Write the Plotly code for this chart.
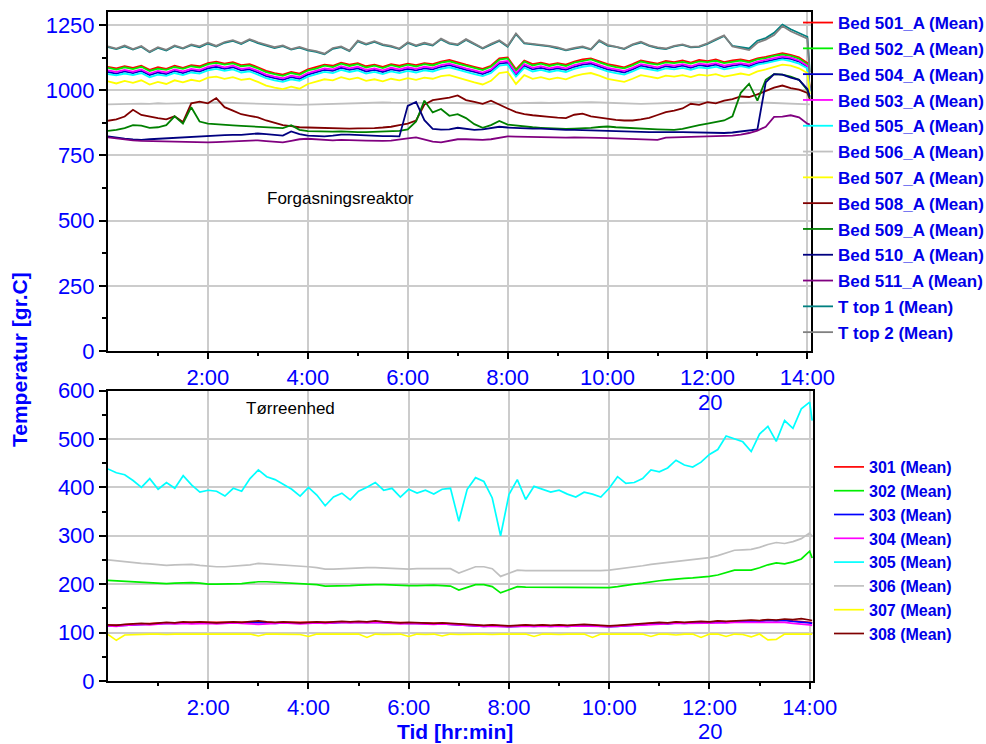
import plotly.graph_objects as go

# ---------------- data ----------------
minutes = list(range(0, 841, 10)) + [843]

tick_minutes = [120, 240, 360, 480, 600, 720, 840]
tick_labels = ["2:00", "4:00", "6:00", "8:00", "10:00", "12:00", "14:00"]
minor_minutes = [60, 180, 300, 420, 540, 660, 780]

top_names = ["Bed 501_A (Mean)", "Bed 502_A (Mean)", "Bed 504_A (Mean)", "Bed 503_A (Mean)",
             "Bed 505_A (Mean)", "Bed 506_A (Mean)", "Bed 507_A (Mean)", "Bed 508_A (Mean)",
             "Bed 509_A (Mean)", "Bed 510_A (Mean)", "Bed 511_A (Mean)", "T top 1 (Mean)",
             "T top 2 (Mean)"]
top_colors = ["#ff0000", "#00ee00", "#0000c8", "#ff00ff", "#00ffff", "#c0c0c0", "#ffff00",
              "#800000", "#008000", "#000080", "#800080", "#008080", "#808080"]

bed501 = [1090,1084,1092,1086,1094,1078,1088,1082,1094,1086,
          1096,1092,1104,1110,1102,1108,1096,1100,1088,1074,
          1066,1060,1070,1064,1080,1088,1098,1094,1106,1098,
          1104,1092,1098,1090,1100,1094,1102,1096,1104,1100,
          1110,1116,1106,1098,1090,1082,1094,1122,1126,1080,
          1114,1100,1106,1098,1104,1098,1110,1118,1122,1112,
          1100,1094,1088,1100,1114,1108,1102,1112,1108,1114,
          1106,1116,1112,1118,1108,1114,1118,1112,1122,1128,
          1136,1142,1136,1126,1104,1010]
bed502 = [1086,1079,1088,1081,1090,1074,1083,1078,1089,1082,
          1092,1087,1100,1105,1098,1103,1092,1095,1084,1069,
          1062,1055,1066,1059,1076,1083,1094,1089,1102,1093,
          1100,1087,1094,1085,1096,1089,1098,1091,1100,1095,
          1106,1111,1102,1093,1086,1077,1090,1117,1122,1075,
          1110,1095,1102,1093,1100,1093,1106,1113,1118,1107,
          1096,1089,1084,1095,1110,1103,1098,1107,1104,1109,
          1102,1111,1108,1113,1104,1109,1114,1107,1118,1123,
          1132,1137,1132,1121,1100,1005]
bed504 = [1070,1064,1072,1066,1074,1058,1068,1062,1074,1066,
          1076,1072,1084,1090,1082,1088,1076,1080,1068,1054,
          1046,1040,1050,1044,1060,1068,1078,1074,1086,1078,
          1084,1072,1078,1070,1080,1074,1082,1076,1084,1080,
          1090,1096,1086,1078,1070,1062,1074,1102,1106,1060,
          1094,1080,1086,1078,1084,1078,1090,1098,1102,1092,
          1080,1074,1068,1080,1094,1088,1082,1092,1088,1094,
          1086,1096,1092,1098,1088,1094,1098,1092,1104,1110,
          1118,1124,1120,1110,1090,998]
bed503 = [1076,1070,1078,1071,1080,1064,1074,1068,1080,1072,
          1082,1077,1090,1096,1088,1094,1082,1086,1074,1060,
          1052,1046,1056,1050,1066,1074,1084,1080,1092,1084,
          1090,1078,1084,1076,1086,1080,1088,1082,1090,1086,
          1096,1102,1092,1084,1076,1068,1080,1108,1112,1066,
          1100,1086,1092,1084,1090,1084,1096,1104,1108,1098,
          1086,1080,1074,1086,1100,1094,1088,1098,1094,1100,
          1092,1102,1098,1104,1094,1100,1104,1098,1110,1116,
          1124,1130,1125,1114,1094,1000]
bed505 = [1062,1057,1064,1058,1066,1050,1060,1055,1066,1058,
          1068,1064,1076,1082,1074,1080,1068,1072,1060,1046,
          1038,1032,1042,1036,1052,1060,1070,1066,1078,1070,
          1076,1064,1070,1062,1072,1066,1074,1068,1076,1072,
          1082,1088,1078,1070,1062,1054,1066,1094,1098,1052,
          1086,1072,1078,1070,1076,1070,1082,1090,1094,1084,
          1072,1066,1060,1072,1086,1080,1074,1084,1080,1086,
          1078,1088,1084,1090,1080,1086,1092,1086,1098,1104,
          1112,1118,1112,1102,1084,994]
bed506 = [946,947,948,947,949,948,950,949,950,951,
          952,951,952,953,952,951,952,950,949,948,
          947,946,945,944,945,946,948,949,950,951,
          952,951,952,953,952,952,953,952,951,952,
          953,952,951,950,949,948,948,949,950,951,
          952,953,952,951,952,953,954,955,954,953,
          952,950,949,948,948,949,950,951,952,953,
          954,954,953,952,953,952,951,952,953,952,
          951,950,949,948,947,946]
bed507 = [1034,1026,1036,1028,1038,1022,1032,1024,1038,1030,
          1040,1034,1048,1052,1044,1050,1040,1044,1032,1018,
          1010,1004,1014,1006,1024,1032,1042,1038,1050,1042,
          1048,1036,1042,1034,1044,1038,1046,1040,1048,1044,
          1054,1058,1048,1040,1030,1022,1036,1066,1070,1024,
          1058,1044,1050,1042,1048,1042,1054,1062,1066,1056,
          1044,1038,1032,1044,1058,1052,1046,1056,1052,1058,
          1050,1060,1056,1062,1052,1058,1064,1058,1072,1080,
          1090,1098,1094,1084,1066,985]
bed508 = [883,888,899,925,905,898,893,888,900,878,
          950,956,950,970,935,922,908,902,896,884,
          874,866,862,858,857,856,855,854,854,853,
          854,854,855,857,860,866,872,884,945,962,
          966,972,980,962,955,948,960,944,930,916,
          908,904,900,898,895,893,906,910,900,895,
          890,886,884,884,888,894,905,916,922,930,
          948,944,954,950,960,966,976,974,984,996,
          1010,1018,1008,1002,990,965]
bed509 = [844,848,855,866,864,856,858,866,900,872,
          935,880,872,869,867,865,863,861,860,858,
          856,855,866,848,843,842,842,841,842,840,
          839,839,840,841,842,844,850,880,960,915,
          928,902,908,893,870,856,866,882,868,864,
          861,858,856,854,853,852,853,854,856,859,
          861,858,856,855,854,852,850,849,848,852,
          860,866,872,878,884,900,990,1025,960,1040,
          1062,1060,1052,1040,1000,970]
bed510 = [823,818,814,811,810,812,814,816,818,820,
          822,824,826,827,828,829,829,832,834,832,
          828,826,842,832,826,824,823,826,830,830,
          828,826,825,824,824,823,940,955,885,852,
          849,850,856,853,848,850,856,860,857,855,
          854,853,853,851,849,848,848,847,846,845,
          843,841,840,839,839,839,839,840,839,839,
          838,838,837,837,836,838,842,846,850,1030,
          1062,1060,1048,1040,1005,975]
bed511 = [819,815,811,808,806,805,804,803,803,802,
          801,800,800,801,802,803,805,807,808,805,
          802,800,806,812,814,812,810,808,810,810,
          808,807,806,806,807,810,815,819,810,803,
          800,805,812,812,811,810,812,818,823,822,
          821,820,820,819,819,818,819,819,818,817,
          816,815,814,813,812,811,810,818,819,820,
          820,821,822,823,824,826,830,836,845,860,
          898,899,904,896,872,868]
ttop1 = [1165,1158,1168,1156,1167,1146,1162,1152,1169,1160,
         1173,1165,1179,1168,1182,1189,1177,1193,1181,1172,
         1162,1169,1156,1163,1153,1147,1138,1159,1165,1150,
         1187,1175,1185,1173,1167,1158,1181,1169,1179,1171,
         1195,1179,1173,1193,1177,1160,1175,1189,1167,1215,
         1180,1176,1173,1168,1161,1153,1160,1165,1156,1189,
         1171,1166,1158,1174,1183,1170,1162,1158,1168,1174,
         1164,1166,1178,1194,1208,1170,1166,1160,1190,1200,
         1220,1252,1234,1218,1205,1070]
ttop2 = [1168,1160,1172,1158,1170,1148,1165,1155,1172,1162,
         1176,1168,1182,1170,1185,1192,1180,1196,1184,1175,
         1165,1172,1158,1166,1156,1150,1140,1162,1168,1152,
         1190,1178,1188,1176,1170,1160,1184,1172,1182,1174,
         1198,1182,1176,1196,1180,1162,1178,1192,1170,1218,
         1182,1178,1176,1170,1164,1155,1162,1168,1158,1192,
         1174,1168,1160,1176,1186,1172,1164,1160,1170,1176,
         1166,1168,1180,1196,1210,1168,1162,1154,1182,1194,
         1212,1246,1226,1212,1198,1060]

top_values = [bed501, bed502, bed504, bed503, bed505, bed506, bed507,
              bed508, bed509, bed510, bed511, ttop1, ttop2]

bot_names = ["301 (Mean)", "302 (Mean)", "303 (Mean)", "304 (Mean)",
             "305 (Mean)", "306 (Mean)", "307 (Mean)", "308 (Mean)"]
bot_colors = ["#ff0000", "#00ee00", "#0000ff", "#ff00ff", "#00ffff", "#c0c0c0", "#ffff00", "#800000"]

t301 = [115,115,116,117,118,118,119,120,120,121,
        121,121,121,120,120,121,121,121,122,121,
        120,121,121,120,120,121,121,121,122,122,
        122,122,123,122,121,120,120,120,119,119,
        119,118,116,115,114,114,115,114,113,114,
        115,114,115,114,115,114,115,116,115,114,
        113,114,115,117,118,119,120,119,121,120,
        121,122,121,123,122,123,124,125,124,126,
        125,126,124,123,121,120]
t302 = [208,207,206,205,204,203,202,201,202,203,
        203,202,200,200,200,201,201,203,205,205,
        204,203,202,201,200,199,196,196,197,197,
        198,199,199,199,198,197,197,197,198,198,
        197,196,188,194,199,199,195,182,188,195,
        194,194,194,193,193,193,193,193,193,193,
        193,195,198,200,202,205,207,209,211,212,
        213,214,216,219,224,229,229,229,234,240,
        244,242,246,252,268,254]
t303 = [114,114,115,116,117,117,118,119,119,120,
        120,120,120,119,119,120,120,120,121,120,
        119,120,120,119,119,120,120,120,121,121,
        121,121,122,121,120,119,119,119,118,118,
        118,117,115,114,113,113,114,113,112,113,
        114,113,114,113,114,113,114,115,114,113,
        112,113,114,116,117,118,119,118,120,119,
        120,121,120,122,121,122,123,124,123,125,
        124,125,123,122,120,119]
t304 = [114,113,115,116,117,116,118,119,118,119,
        118,119,119,118,119,120,119,118,117,118,
        119,120,119,118,119,120,119,120,121,120,
        121,120,121,120,119,118,119,118,118,117,
        118,117,115,114,113,113,113,112,112,113,
        113,112,113,113,113,113,114,114,114,113,
        112,113,114,115,116,117,118,118,119,119,
        119,120,119,120,120,121,121,122,121,122,
        122,121,119,118,116,115]
t305 = [438,430,426,414,400,418,396,410,398,424,
        405,390,394,392,382,398,392,418,436,422,
        416,406,396,382,400,384,362,380,388,374,
        392,400,410,394,398,380,396,388,394,386,
        396,398,330,396,420,412,378,300,385,416,
        375,402,396,390,394,386,380,390,386,380,
        398,422,408,410,418,436,432,440,456,446,
        442,452,468,478,506,500,494,474,510,526,
        495,538,522,562,576,538]
t306 = [250,248,246,244,243,242,240,239,240,241,
        241,239,237,236,236,237,238,240,243,242,
        241,240,238,237,236,234,231,231,232,232,
        233,234,234,233,232,231,231,232,232,232,
        233,232,223,230,236,236,232,216,222,229,
        228,228,228,227,227,227,227,227,228,228,
        229,231,234,236,238,241,243,245,247,249,
        251,253,255,259,264,270,271,272,276,282,
        286,284,288,294,306,298]
t307 = [96,84,95,96,96,97,97,96,97,97,
        97,97,97,97,96,97,97,97,93,97,
        97,97,97,96,92,97,97,97,97,96,
        97,90,97,96,97,97,92,97,96,97,
        93,97,96,97,97,97,96,97,97,97,
        97,92,97,97,96,97,97,97,90,97,
        97,97,96,97,97,92,97,97,95,97,
        97,90,97,97,92,97,96,91,97,85,
        86,97,97,97,97,97]
t308 = [116,115,117,118,119,118,120,121,120,122,
        121,122,121,120,121,122,121,123,124,122,
        121,122,121,120,121,122,121,122,123,122,
        123,122,124,122,121,120,121,120,120,119,
        120,119,117,116,115,115,116,115,114,115,
        116,115,116,115,116,115,116,117,116,115,
        114,115,116,118,119,120,121,120,122,121,
        122,123,122,124,123,124,125,126,125,127,
        126,128,127,129,126,125]

bot_values = [t301, t302, t303, t304, t305, t306, t307, t308]

# ---------------- figure ----------------
W, H = 986, 744
FONT = "Liberation Sans, Arial, sans-serif"
BLUE = "#0000ff"
LBLUE = "#0000e8"


def pxx(x):
    return x / W


def pxy(y):
    return 1 - y / H


fig = go.Figure()

for name, color, vals in zip(top_names, top_colors, top_values):
    fig.add_trace(go.Scatter(x=minutes, y=vals, name=name, mode="lines",
                             line=dict(color=color, width=1.8),
                             xaxis="x", yaxis="y", legend="legend",
                             legendgroup=name, hoverinfo="skip"))

for name, color, vals in zip(bot_names, bot_colors, bot_values):
    fig.add_trace(go.Scatter(x=minutes, y=vals, name=name, mode="lines",
                             line=dict(color=color, width=1.7),
                             xaxis="x2", yaxis="y2", legend="legend2",
                             hoverinfo="skip"))

top_dom_x = [pxx(108), pxx(810.7)]
bot_dom_x = [pxx(108), pxx(813)]
top_dom_y = [pxy(351), pxy(12)]
bot_dom_y = [pxy(681), pxy(390.5)]

XR = [0, 844]

base = dict(showline=True, linecolor="black", linewidth=2, mirror=True,
            gridcolor="#cccccc", gridwidth=1.5, zeroline=False,
            tickfont=dict(family=FONT, size=22, color=BLUE),
            tickcolor="black", tickwidth=2, ticks="outside")


def xax(domain, anchor):
    d = dict(base)
    d.update(domain=domain, anchor=anchor, range=XR, tickmode="array",
             tickvals=tick_minutes, ticktext=tick_labels, ticklen=6,
             showgrid=True,
             minor=dict(tickmode="array", tickvals=minor_minutes, ticks="outside",
                        ticklen=3, tickwidth=2, tickcolor="black", showgrid=False))
    return d


def xover(domain, anchor, over):
    return dict(domain=domain, anchor=anchor, overlaying=over, range=XR,
                tickmode="array", tickvals=tick_minutes, ticks="inside", ticklen=6,
                tickwidth=2, tickcolor="black", showticklabels=False, showgrid=False,
                showline=False, zeroline=False,
                minor=dict(tickmode="array", tickvals=minor_minutes, ticks="inside",
                           ticklen=3, tickwidth=2, tickcolor="black", showgrid=False))


def yax(domain, anchor, rng, dtick, minor_vals):
    d = dict(base)
    d.update(domain=domain, anchor=anchor, range=rng, tickmode="linear", tick0=0,
             dtick=dtick, ticklen=7, showgrid=True,
             minor=dict(tickmode="array", tickvals=minor_vals, ticks="outside",
                        ticklen=4, tickwidth=2, tickcolor="black", showgrid=False))
    return d


def yover(domain, anchor, over, rng, dtick, minor_vals):
    return dict(domain=domain, anchor=anchor, overlaying=over, range=rng,
                tickmode="linear", tick0=0, dtick=dtick, ticks="inside", ticklen=8,
                tickwidth=2, tickcolor="black", showticklabels=False, showgrid=False,
                showline=False, zeroline=False, side="left",
                minor=dict(tickmode="array", tickvals=minor_vals, ticks="inside",
                           ticklen=4, tickwidth=2, tickcolor="black", showgrid=False))


top_minor = [125, 375, 625, 875, 1125]
bot_minor = [50, 150, 250, 350, 450, 550]


def note(text, x, y, size, color=BLUE, bold=False, angle=0, xref="paper", yref="paper"):
    return dict(text=text, x=x, y=y, xref=xref, yref=yref, showarrow=False,
                xanchor="center", yanchor="middle", textangle=angle,
                font=dict(family=FONT, size=size, color=color,
                          weight="bold" if bold else "normal"))


fig.update_layout(
    width=W, height=H,
    margin=dict(l=0, r=0, t=0, b=0, autoexpand=False),
    paper_bgcolor="white", plot_bgcolor="white",
    font=dict(family=FONT),
    showlegend=True,
    xaxis=xax(top_dom_x, "y"),
    yaxis=yax(top_dom_y, "x", [0, 1300], 250, top_minor),
    xaxis2=xax(bot_dom_x, "y2"),
    yaxis2=yax(bot_dom_y, "x2", [0, 600], 100, bot_minor),
    xaxis3=xover(top_dom_x, "y", "x"),
    yaxis3=yover(top_dom_y, "x", "y", [0, 1300], 250, top_minor),
    xaxis4=xover(bot_dom_x, "y2", "x2"),
    yaxis4=yover(bot_dom_y, "x2", "y2", [0, 600], 100, bot_minor),
    legend=dict(x=pxx(798), y=pxy(5), xanchor="left", yanchor="top",
                bgcolor="rgba(0,0,0,0)", borderwidth=0, tracegroupgap=0.7,
                font=dict(family=FONT, size=17, color=LBLUE, weight="bold")),
    legend2=dict(x=pxx(829), y=pxy(450), xanchor="left", yanchor="top",
                 bgcolor="rgba(0,0,0,0)", borderwidth=0,
                 font=dict(family=FONT, size=16, color=LBLUE, weight="bold")),
    annotations=[
        note("Forgasningsreaktor", 279, 583, 17, color="black", xref="x", yref="y"),
        note("Tørreenhed", 218, 563, 17, color="black", xref="x2", yref="y2"),
        note("20", pxx(710), pxy(402), 22),
        note("20", pxx(710), pxy(731), 22),
        note("Temperatur [gr.C]", pxx(19), pxy(360), 21, bold=True, angle=-90),
        note("Tid [hr:min]", pxx(455), pxy(731), 21, bold=True),
    ],
)

fig.write_html("out.html", config={"displayModeBar": False},
               post_script="document.body.style.margin='0px';")
